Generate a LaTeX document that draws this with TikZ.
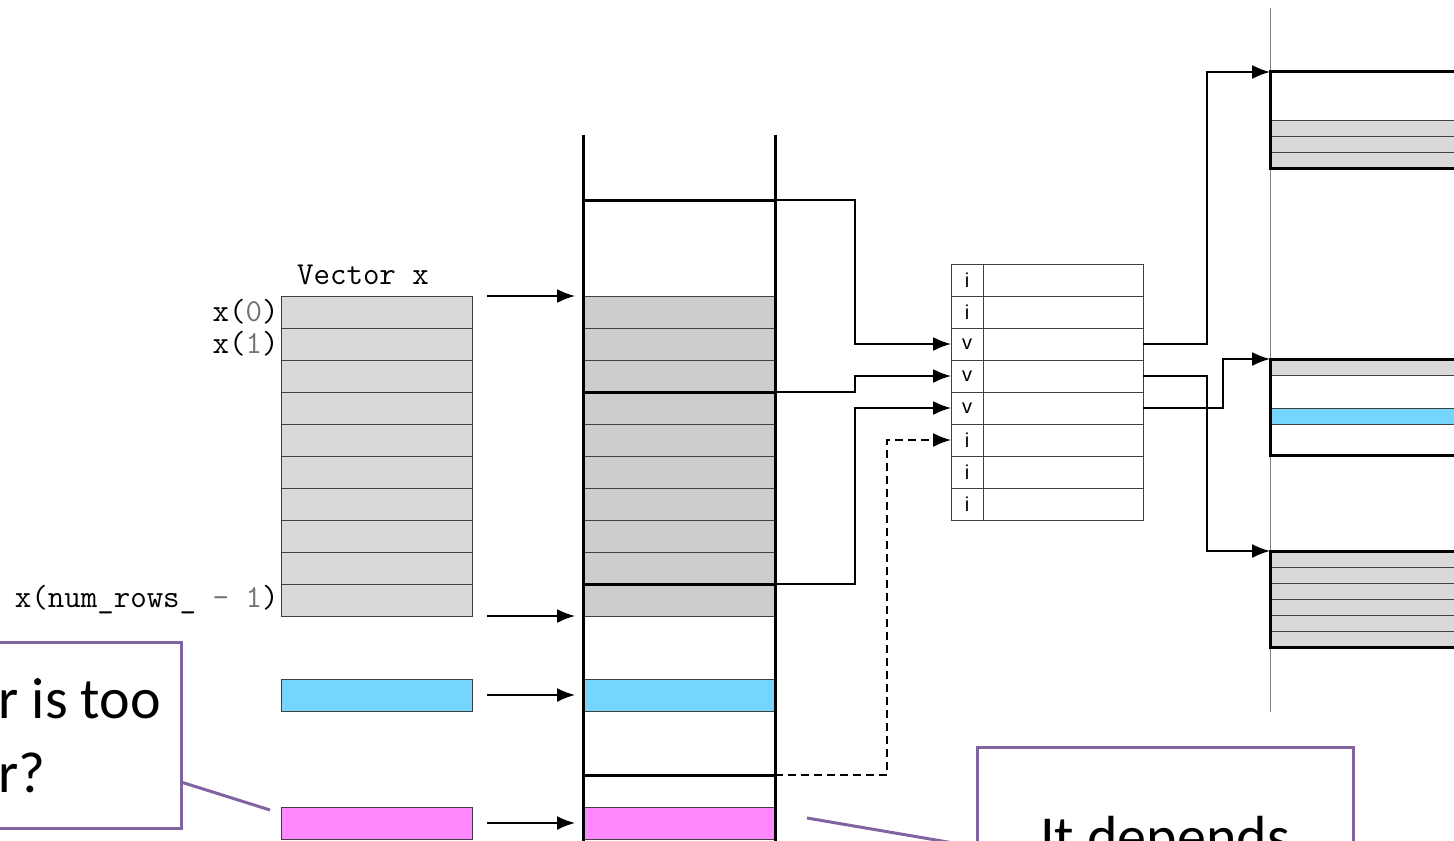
\documentclass[tikz,border=0pt]{standalone}
\usepackage{fontspec}
\usepackage{xcolor}
\newfontfamily\calloutfont{Carlito}
\newfontfamily\cellfont{Liberation Sans}
\usetikzlibrary{arrows.meta}

\definecolor{vecgray}{HTML}{D9D9D9}
\definecolor{memgray}{HTML}{CCCCCC}
\definecolor{ghostblue}{HTML}{75D5FF}
\definecolor{ghostpink}{HTML}{FF88FF}
\definecolor{calloutpurple}{HTML}{8064A2}

\begin{document}
\begin{tikzpicture}[x=0.5pt,y=-0.5pt,
    vcell/.style={draw=black!75, line width=0.5pt, fill=vecgray, anchor=north west,
      minimum width=95.5pt, minimum height=16pt, inner sep=0pt, outer sep=0pt},
    mcell/.style={vcell, fill=memgray, minimum width=96pt},
    tagcell/.style={draw=black!75, line width=0.5pt, anchor=north west,
      minimum width=16pt, minimum height=16pt, inner sep=0pt, outer sep=0pt,
      font=\cellfont\fontsize{10}{11}\selectfont},
    valcell/.style={tagcell, minimum width=80pt},
    ptr/.style={line width=0.9pt, -{Latex[length=9pt,width=7pt]}},
    wall/.style={line width=1.5pt},
    blk/.style={draw, line width=1.5pt, anchor=north west, minimum width=110pt,
      minimum height=48pt, inner sep=0pt, outer sep=0pt},
    strip/.style={draw=black!75, line width=0.5pt, fill=vecgray},
    callout/.style={draw=calloutpurple, line width=1.5pt, inner sep=0pt, outer sep=0pt},
    callline/.style={draw=calloutpurple, line width=1.5pt},
    asktext/.style={font=\calloutfont\fontsize{29}{35}\selectfont, inner sep=0pt},
    ttlabel/.style={font=\ttfamily\fontsize{16}{18}\selectfont, inner sep=1pt, anchor=east}
  ]
    \useasboundingbox (0,0) rectangle (1454,840);
    \clip (0,0) rectangle (1454,840);

    % Vector x
    \node[font=\ttfamily\fontsize{16}{18}\selectfont] (vtitle) at (363,275) {Vector x};
    \foreach \r in {0,...,9}
      \node[vcell] (vx\r) at (281,296+32*\r) {};
    \node[vcell, fill=ghostblue] (vblue) at (281,679) {};
    \node[vcell, fill=ghostpink] (vpink) at (281,807) {};
    \node[ttlabel] (lbl0) at (vx0.west) {x(\textcolor{black!55}{0})};
    \node[ttlabel] (lbl1) at (vx1.west) {x(\textcolor{black!55}{1})};
    \node[ttlabel] (lbl9) at (vx9.west) {x(num\_rows\_ \textcolor{black!55}{- 1})};

    % Memory column
    \foreach \r in {0,...,9}
      \node[mcell] (m\r) at (583,296+32*\r) {};
    \node[mcell, fill=ghostblue] (mblue) at (583,679) {};
    \node[mcell, fill=ghostpink] (mpink) at (583,807) {};
    \draw[wall] (583,135) -- (583,850);
    \draw[wall] (775,135) -- (775,850);
    \foreach \y/\name in {200/hdr1, 392/hdr2, 584/hdr3, 775/hdr4} {
      \draw[wall] (583,\y) -- (775,\y);
      \coordinate (\name) at (775,\y);
    }

    % Index table
    \foreach \t [count=\r from 0] in {i,i,v,v,v,i,i,i} {
      \node[tagcell] (tag\r) at (951,264+32*\r) {\t};
      \node[valcell] (tval\r) at (983,264+32*\r) {};
    }

    % Blocks
    \draw[gray, line width=0.5pt] (1270,8) -- (1270,712);
    \foreach \k in {0,1,2}
      \draw[strip] (1270,120+16*\k) rectangle (1480,136+16*\k);
    \draw[strip] (1270,359) rectangle (1480,375);
    \draw[strip, fill=ghostblue] (1270,408) rectangle (1480,424);
    \foreach \k in {0,...,5}
      \draw[strip] (1270,551+16*\k) rectangle (1480,567+16*\k);
    \node[blk] (blk1) at (1270,72) {};
    \node[blk] (blk2) at (1270,359) {};
    \node[blk] (blk3) at (1270,551) {};

    % Pointers
    \draw[ptr, shorten <=7.5pt, shorten >=4pt] (vx0.north east) -- (m0.north west);
    \draw[ptr, shorten <=7.5pt, shorten >=4pt] (vx9.south east) -- (m9.south west);
    \draw[ptr, shorten <=7.5pt, shorten >=4pt] (vblue.east) -- (mblue.west);
    \draw[ptr, shorten <=7.5pt, shorten >=4pt] (vpink.east) -- (mpink.west);

    \draw[ptr] (hdr1) -- ++(80,0) |- (tag2.west);
    \draw[ptr] (hdr2) -- ++(80,0) |- (tag3.west);
    \draw[ptr] (hdr3) -- ++(80,0) |- (tag4.west);
    \draw[ptr, dashed, dash pattern=on 4pt off 2.5pt] (hdr4) -- ++(112,0) |- (tag5.west);

    \draw[ptr] (tval2.east) -- ++(64,0) |- (blk1.north west);
    \draw[ptr] (tval3.east) -- ++(64,0) |- (blk3.north west);
    \draw[ptr] (tval4.east) -- ++(80,0) |- (blk2.north west);

    % Callouts
    \node[callout, anchor=north east, minimum width=150pt, minimum height=93pt] (asknote) at (181,642) {};
    \node[asktext, anchor=base west] (ask1) at (-2,718) {r is too};
    \node[asktext, anchor=base west] (ask2) at (-2,792) {r?};
    \draw[callline] ([yshift=-23.5pt]asknote.east) -- ([xshift=-5.5pt,yshift=6.5pt]vpink.west);

    \node[callout, anchor=north west, minimum width=188pt, minimum height=100pt] (depnote) at (977,747) {};
    \node[asktext, anchor=base] (dep) at (1165,856) {It depends};
    \draw[callline] ([xshift=16pt,yshift=2.5pt]mpink.east) -- (depnote.west);
\end{tikzpicture}
\end{document}
